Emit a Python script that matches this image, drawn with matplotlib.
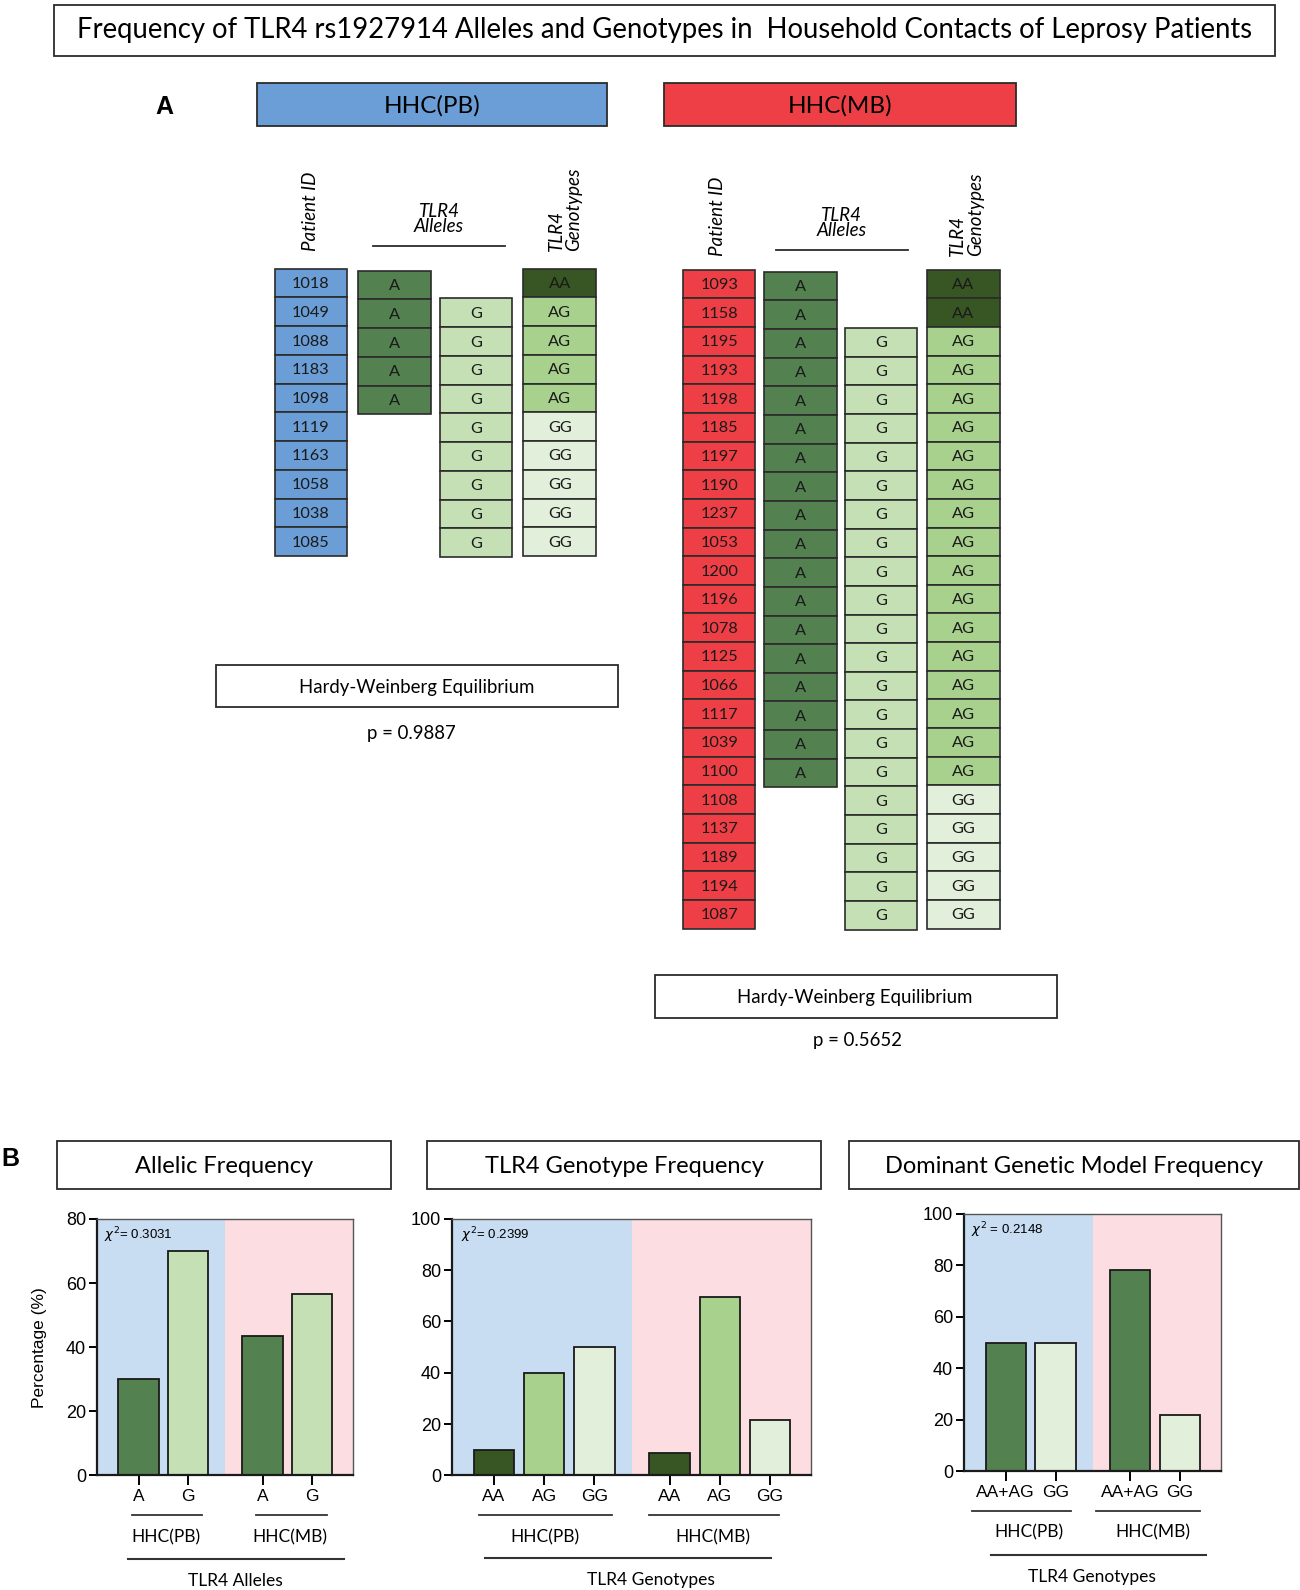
import matplotlib
matplotlib.use("Agg")
import matplotlib.pyplot as plt
from matplotlib.patches import Rectangle

# ---------------- data ----------------
pb_ids = ["1018", "1049", "1088", "1183", "1098", "1119", "1163", "1058", "1038", "1085"]
pb_genotypes = ["AA", "AG", "AG", "AG", "AG", "GG", "GG", "GG", "GG", "GG"]

mb_ids = ["1093", "1158", "1195", "1193", "1198", "1185", "1197", "1190", "1237", "1053",
          "1200", "1196", "1078", "1125", "1066", "1117", "1039", "1100", "1108", "1137",
          "1189", "1194", "1087"]
mb_genotypes = ["AA", "AA", "AG", "AG", "AG", "AG", "AG", "AG", "AG", "AG", "AG", "AG",
                "AG", "AG", "AG", "AG", "AG", "AG", "GG", "GG", "GG", "GG", "GG"]

hwe_pb = "0.9887"
hwe_mb = "0.5652"

allele_labels = ["A", "G"]
allele_pb = [30.0, 70.0]
allele_mb = [43.5, 56.5]

geno_labels = ["AA", "AG", "GG"]
geno_pb = [10.0, 40.0, 50.0]
geno_mb = [8.7, 69.6, 21.7]

dom_labels = ["AA+AG", "GG"]
dom_pb = [50.0, 50.0]
dom_mb = [78.3, 21.7]

chi2_values = ["0.3031", "0.2399", "0.2148"]

# ---------------- colours / fonts ----------------
BLUE = "#6b9ed6"
RED = "#ef3f46"
A_COL = "#538150"
G_COL = "#c5e0b4"
GENO_COL = {"AA": "#375623", "AG": "#a9d18e", "GG": "#e2efda"}
BG_BLUE = "#c9ddf2"
BG_PINK = "#fcdde1"
EDGE = "#2b2b2b"
TXT = "Lato"
ARIAL = "Liberation Sans"

# canvas in reference pixel frame
W, H = 1282, 1568
fig = plt.figure(figsize=(13, 15.9), dpi=100)
cv = fig.add_axes([0, 0, 1, 1])
cv.set_xlim(0, W)
cv.set_ylim(H, 0)
cv.axis("off")


def box(x0, y0, x1, y1, fc="white", lw=1.3):
    cv.add_patch(Rectangle((x0, y0), x1 - x0, y1 - y0, facecolor=fc, edgecolor=EDGE, lw=lw))


def cell(x, y, txt, fc, w=71, h=28.3):
    box(x, y, x + w, y + h, fc=fc, lw=1.2)
    cv.text(x + w / 2, y + h / 2 + 1, txt, ha="center", va="center", fontsize=11.8,
            family=TXT, color="#1a1a1a")


# ---------------- title ----------------
box(53, 5, 1257, 55)
cv.text(655, 30, "Frequency of TLR4 rs1927914 Alleles and Genotypes in  Household Contacts of Leprosy Patients",
        ha="center", va="center", fontsize=19.8, family=TXT)

# ---------------- part A ----------------
cv.text(162, 106, "A", ha="center", va="center", fontsize=18, fontweight="bold", family=ARIAL)
box(253, 82, 599, 124, fc=BLUE)
cv.text(426, 104, "HHC(PB)", ha="center", va="center", fontsize=17.5, family=TXT)
box(655, 82, 1002, 124, fc=RED)
cv.text(828, 104, "HHC(MB)", ha="center", va="center", fontsize=17.5, family=TXT)


def headers(x_id, x_al, al_y, line_x0, line_x1, line_y, x_gt, bottom):
    cv.text(x_id, bottom, "Patient ID", rotation=90, ha="center", va="bottom",
            fontsize=13.5, style="italic", family=TXT)
    cv.text(x_al, al_y, "TLR4\nAlleles", ha="center", va="center", fontsize=13.5,
            style="italic", family=TXT, linespacing=0.85)
    cv.plot([line_x0, line_x1], [line_y, line_y], color=EDGE, lw=1.3)
    cv.text(x_gt, bottom, "TLR4\nGenotypes", rotation=90, ha="center", va="bottom",
            fontsize=13.5, style="italic", family=TXT, linespacing=1.05, multialignment="left")


def table(ids, genos, x_id, x_a, x_g, x_gt, top, rh, id_col):
    for i, (pid, gt) in enumerate(zip(ids, genos)):
        y = top + i * rh
        cell(x_id, y, pid, id_col, h=rh)
        if "A" in gt:
            cell(x_a, y + 2, "A", A_COL, w=72, h=rh)
        if "G" in gt:
            cell(x_g, y + 1, "G", G_COL, h=rh)
        cell(x_gt, y, gt, GENO_COL[gt], w=72, h=rh)


headers(306, 433, 216, 368, 498, 243, 557, 248)
table(pb_ids, pb_genotypes, 271, 353, 434, 516, 265, 28.33, BLUE)
headers(708, 830, 220, 765, 895, 247, 953, 252)
table(mb_ids, mb_genotypes, 674, 753, 833, 914, 266, 28.25, RED)

box(213, 656, 609, 697)
cv.text(411, 678, "Hardy-Weinberg Equilibrium", ha="center", va="center", fontsize=13.4, family=TXT)
cv.text(406, 723, "p = " + hwe_pb, ha="center", va="center", fontsize=13.4, family=TXT)
box(646, 962, 1042, 1004)
cv.text(843, 984, "Hardy-Weinberg Equilibrium", ha="center", va="center", fontsize=13.4, family=TXT)
cv.text(846, 1026, "p = " + hwe_mb, ha="center", va="center", fontsize=13.4, family=TXT)

# ---------------- part B ----------------
cv.text(10, 1143, "B", ha="center", va="center", fontsize=18, fontweight="bold", family=ARIAL)
for (x0, x1), name in zip([(56, 386), (421, 810), (837, 1281)],
                          ["Allelic Frequency", "TLR4 Genotype Frequency", "Dominant Genetic Model Frequency"]):
    box(x0, 1125, x1, 1173)
    cv.text((x0 + x1) / 2, 1150, name, ha="center", va="center", fontsize=17, family=TXT)


def panel(rect, labels, pb, mb, colors, ymax, chi, chi_sep):
    x0, y0, x1, y1 = rect
    ax = fig.add_axes([x0 / W, 1 - y1 / H, (x1 - x0) / W, (y1 - y0) / H])
    n = len(labels)
    xs = list(range(n)) + [n + 0.5 + i for i in range(n)]
    lo, hi = xs[0] - 0.83, xs[-1] + 0.82
    mid = (xs[n - 1] + xs[n]) / 2
    ax.axvspan(lo, mid, color=BG_BLUE, lw=0, zorder=0)
    ax.axvspan(mid, hi, color=BG_PINK, lw=0, zorder=0)
    ax.bar(xs, pb + mb, width=0.81, color=colors * 2, edgecolor="#1a1a1a", lw=1.3, zorder=2)
    ax.set_xlim(lo, hi)
    ax.set_ylim(0, ymax)
    ax.set_yticks(range(0, ymax + 1, 20))
    ax.set_xticks(xs, labels * 2)
    for s in ["left", "bottom"]:
        ax.spines[s].set_linewidth(1.6)
        ax.spines[s].set_color("#1a1a1a")
    for s in ["top", "right"]:
        ax.spines[s].set_linewidth(1.0)
        ax.spines[s].set_color("#555555")
    ax.tick_params(axis="y", direction="out", length=6, width=1.4, labelsize=13, pad=2)
    ax.tick_params(axis="x", direction="out", length=7, width=1.4, labelsize=12.5, pad=3)
    for t in ax.get_xticklabels() + ax.get_yticklabels():
        t.set_family(ARIAL)
    ax.text(0.025, 0.975, r"$\chi^2$" + chi_sep + "= " + chi, transform=ax.transAxes,
            ha="left", va="top", fontsize=9.5, family=ARIAL)
    return ax


ax1 = panel((96, 1202, 348, 1455), allele_labels, allele_pb, allele_mb, [A_COL, G_COL], 80,
            chi2_values[0], "")
ax1.set_ylabel("Percentage (%)", fontsize=12.5, family=ARIAL, labelpad=14)
ax2 = panel((446, 1202, 800, 1455), geno_labels, geno_pb, geno_mb,
            [GENO_COL["AA"], GENO_COL["AG"], GENO_COL["GG"]], 100, chi2_values[1], "")
ax3 = panel((951, 1197, 1204, 1451), dom_labels, dom_pb, dom_mb, [A_COL, GENO_COL["GG"]], 100,
            chi2_values[2], " ")


def group_labels(sub, centers, sub_y, lab_y, long_seg, long_y, foot_x, foot):
    for (a, b), c, lab in zip(sub, centers, ["HHC(PB)", "HHC(MB)"]):
        cv.plot([a, b], [sub_y, sub_y], color="#333333", lw=1.3)
        cv.text(c, lab_y, lab, ha="center", va="center", fontsize=12.5, family=TXT)
    cv.plot(long_seg, [long_y, long_y], color="#333333", lw=1.5)
    cv.text(foot_x, long_y + 22, foot, ha="center", va="center", fontsize=12.5, family=TXT)


group_labels([(130, 199), (252, 322)], [164, 286], 1494, 1516, [126, 339], 1537, 232, "TLR4 Alleles")
group_labels([(472, 604), (640, 768)], [537, 703], 1494, 1516, [478, 760], 1536, 642, "TLR4 Genotypes")
group_labels([(959, 1056), (1081, 1183)], [1015, 1137], 1490, 1511, [977, 1189], 1533, 1077,
             "TLR4 Genotypes")

fig.savefig("out.png", dpi=100)
